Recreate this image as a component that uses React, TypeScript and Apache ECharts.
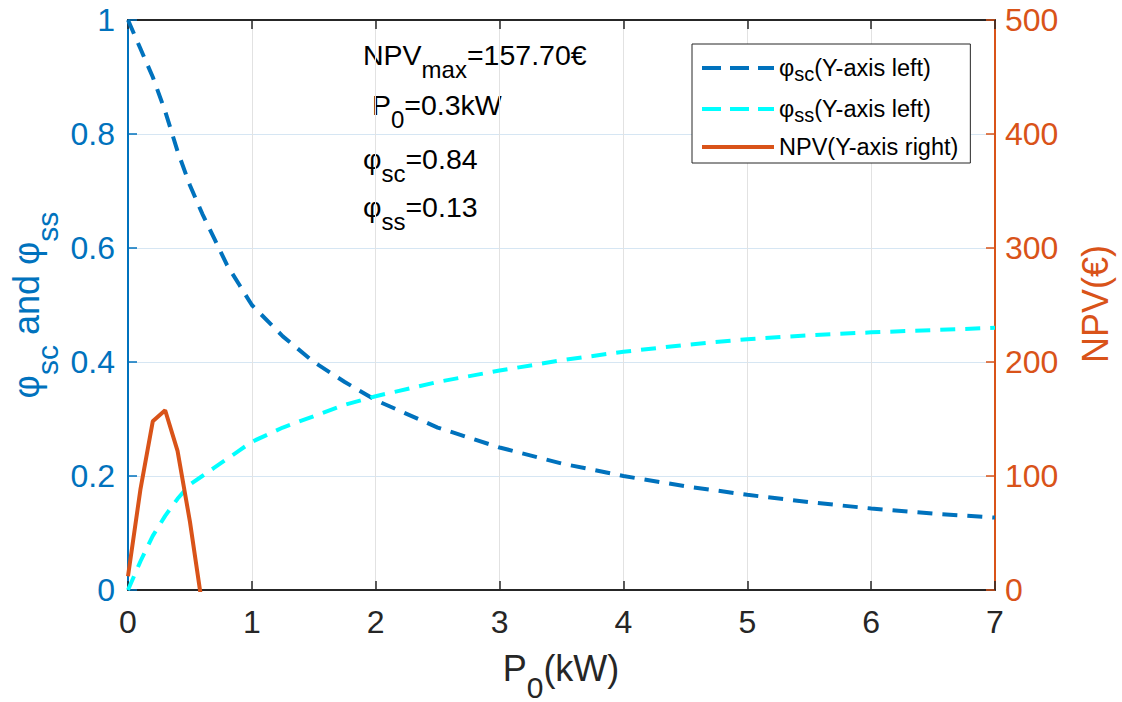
import React, { useEffect, useRef } from "react";
import * as echarts from "echarts";

// ---- data ----
const phiP0 = [0, 0.1, 0.2, 0.3, 0.4, 0.5, 0.6, 0.7, 0.8, 0.9, 1.0, 1.25, 1.5, 1.75, 2.0, 2.5, 3.0, 3.5, 4.0, 4.5, 5.0, 5.5, 6.0, 6.5, 7.0];
const phiSc = [1, 0.95, 0.9, 0.84, 0.77, 0.71, 0.66, 0.615, 0.57, 0.535, 0.5, 0.445, 0.4, 0.365, 0.333, 0.285, 0.25, 0.222, 0.2, 0.182, 0.167, 0.154, 0.143, 0.134, 0.127];
const phiSs = [0, 0.05, 0.095, 0.13, 0.16, 0.185, 0.2, 0.215, 0.23, 0.245, 0.26, 0.285, 0.305, 0.325, 0.34, 0.365, 0.385, 0.403, 0.418, 0.43, 0.44, 0.447, 0.452, 0.456, 0.46];
const npvP0 = [0, 0.1, 0.2, 0.3, 0.4, 0.5, 0.6];
const npv = [12, 88, 148, 157.7, 122, 60, -14];

const seriesNames = ["φsc(Y-axis left)", "φss(Y-axis left)", "NPV(Y-axis right)"];
const legendRich = ["{a|φ}{b|sc}{a|(Y-axis left)}", "{a|φ}{b|ss}{a|(Y-axis left)}", "{a|NPV(Y-axis right)}"];

const FONT = "'Liberation Sans', Arial, Helvetica, sans-serif";
const BLUE = "#0072BD";
const CYAN = "#00FFFF";
const ORANGE = "#D95319";
const DARK = "#262626";

const pairs = (xs: number[], ys: number[]) => xs.map((x, i) => [x, ys[i]]);

export default function App() {
  const ref = useRef<HTMLDivElement>(null);
  useEffect(() => {
    if (!ref.current) return;
    const chart = echarts.init(ref.current, undefined, { renderer: "svg" });
    const annMain = { fontSize: 28.5, fontFamily: FONT, fill: "#000", lineHeight: 34 };
    const annSub = { fontSize: 24, fontFamily: FONT, fill: "#000", lineHeight: 34, verticalAlign: "top", padding: [19, 0, 0, 0] };
    const annText = (x: number, y: number, text: string) => ({
      type: "text",
      x,
      y,
      style: { text, rich: { a: annMain, b: annSub }, verticalAlign: "top", align: "left" },
    });
    const dashLegend = { type: [19, 9], width: 4 };
    chart.setOption({
      animation: false,
      backgroundColor: "#fff",
      grid: { left: 128, right: 127, top: 20, bottom: 112 },
      legend: {
        orient: "vertical",
        left: 692,
        top: 44,
        padding: [9, 12, 4, 8],
        itemWidth: 72,
        itemHeight: 14,
        itemGap: 10,
        borderColor: DARK,
        borderWidth: 1,
        backgroundColor: "#fff",
        itemStyle: { opacity: 0 },
        data: [
          { name: seriesNames[0], lineStyle: dashLegend },
          { name: seriesNames[1], lineStyle: dashLegend },
          { name: seriesNames[2], lineStyle: { width: 4 } },
        ],
        formatter: (name: string) => legendRich[seriesNames.indexOf(name)],
        textStyle: {
          rich: {
            a: { fontSize: 23.5, fontFamily: FONT, color: "#000", lineHeight: 30 },
            b: { fontSize: 20, fontFamily: FONT, color: "#000", lineHeight: 30, verticalAlign: "top", padding: [11, 0, 0, 0] },
          },
        },
      },
      xAxis: [
        {
          type: "value",
          min: 0,
          max: 7,
          interval: 1,
          axisLine: { show: true, onZero: false, lineStyle: { color: DARK, width: 2 } },
          axisTick: { show: true, inside: true, length: 9, lineStyle: { color: DARK, width: 1.5 } },
          axisLabel: { color: DARK, fontSize: 32, fontFamily: FONT, margin: 16 },
          splitLine: { show: true, lineStyle: { color: "#e2e2e2", width: 1 } },
        },
        {
          type: "value",
          position: "top",
          min: 0,
          max: 7,
          interval: 1,
          axisLine: { show: true, onZero: false, lineStyle: { color: DARK, width: 2 } },
          axisTick: { show: true, inside: true, length: 9, lineStyle: { color: DARK, width: 1.5 } },
          axisLabel: { show: false },
          splitLine: { show: false },
        },
      ],
      yAxis: [
        {
          type: "value",
          min: 0,
          max: 1,
          interval: 0.2,
          axisLine: { show: true, onZero: false, lineStyle: { color: BLUE, width: 2 } },
          axisTick: { show: true, inside: true, length: 9, lineStyle: { color: BLUE, width: 1.5 } },
          axisLabel: { color: BLUE, fontSize: 32, fontFamily: FONT, margin: 13 },
          splitLine: { show: true, lineStyle: { color: "#d6e6f3", width: 1 } },
        },
        {
          type: "value",
          position: "right",
          min: 0,
          max: 500,
          interval: 100,
          axisLine: { show: true, onZero: false, lineStyle: { color: ORANGE, width: 2 } },
          axisTick: { show: true, inside: true, length: 9, lineStyle: { color: ORANGE, width: 1.5 } },
          axisLabel: { color: ORANGE, fontSize: 32, fontFamily: FONT, margin: 10 },
          splitLine: { show: false },
        },
      ],
      series: [
        {
          name: seriesNames[0],
          type: "line",
          yAxisIndex: 0,
          data: pairs(phiP0, phiSc),
          symbol: "none",
          lineStyle: { color: BLUE, width: 4, type: [15, 10] },
          itemStyle: { color: BLUE },
        },
        {
          name: seriesNames[1],
          type: "line",
          yAxisIndex: 0,
          data: pairs(phiP0, phiSs),
          symbol: "none",
          lineStyle: { color: CYAN, width: 4, type: [15, 10] },
          itemStyle: { color: CYAN },
        },
        {
          name: seriesNames[2],
          type: "line",
          yAxisIndex: 1,
          data: pairs(npvP0, npv),
          symbol: "none",
          clip: true,
          lineStyle: { color: ORANGE, width: 4 },
          itemStyle: { color: ORANGE },
        },
      ],
      graphic: [
        annText(363, 38, "{a|NPV}{b|max}{a|=157.70€}"),
        annText(372, 88, "{a|P}{b|0}{a|=0.3kW}"),
        annText(363, 142, "{a|φ}{b|sc}{a|=0.84}"),
        annText(363, 190, "{a|φ}{b|ss}{a|=0.13}"),
        {
          type: "text",
          x: 561,
          y: 646,
          style: {
            text: "{a|P}{b|0}{a|(kW)}",
            align: "center",
            verticalAlign: "top",
            rich: {
              a: { fontSize: 36, fontFamily: FONT, fill: DARK, lineHeight: 44 },
              b: { fontSize: 30, fontFamily: FONT, fill: DARK, lineHeight: 44, verticalAlign: "top", padding: [26, 0, 0, 0] },
            },
          },
        },
        {
          type: "text",
          x: 26,
          y: 305,
          rotation: Math.PI / 2,
          style: {
            text: "{a|φ}{b|sc}{a| and φ}{b|ss}",
            align: "center",
            verticalAlign: "middle",
            rich: {
              a: { fontSize: 36, fontFamily: FONT, fill: BLUE, lineHeight: 44 },
              b: { fontSize: 30, fontFamily: FONT, fill: BLUE, lineHeight: 44, verticalAlign: "top", padding: [28, 0, 0, 0] },
            },
          },
        },
        {
          type: "text",
          x: 1095,
          y: 304,
          rotation: Math.PI / 2,
          style: {
            text: "NPV(€)",
            align: "center",
            verticalAlign: "middle",
            fontSize: 36,
            fontFamily: FONT,
            fill: ORANGE,
          },
        },
      ],
    });
    return () => chart.dispose();
  }, []);
  return <div ref={ref} style={{ position: "fixed", left: 0, top: 0, width: 1122, height: 702 }} />;
}
